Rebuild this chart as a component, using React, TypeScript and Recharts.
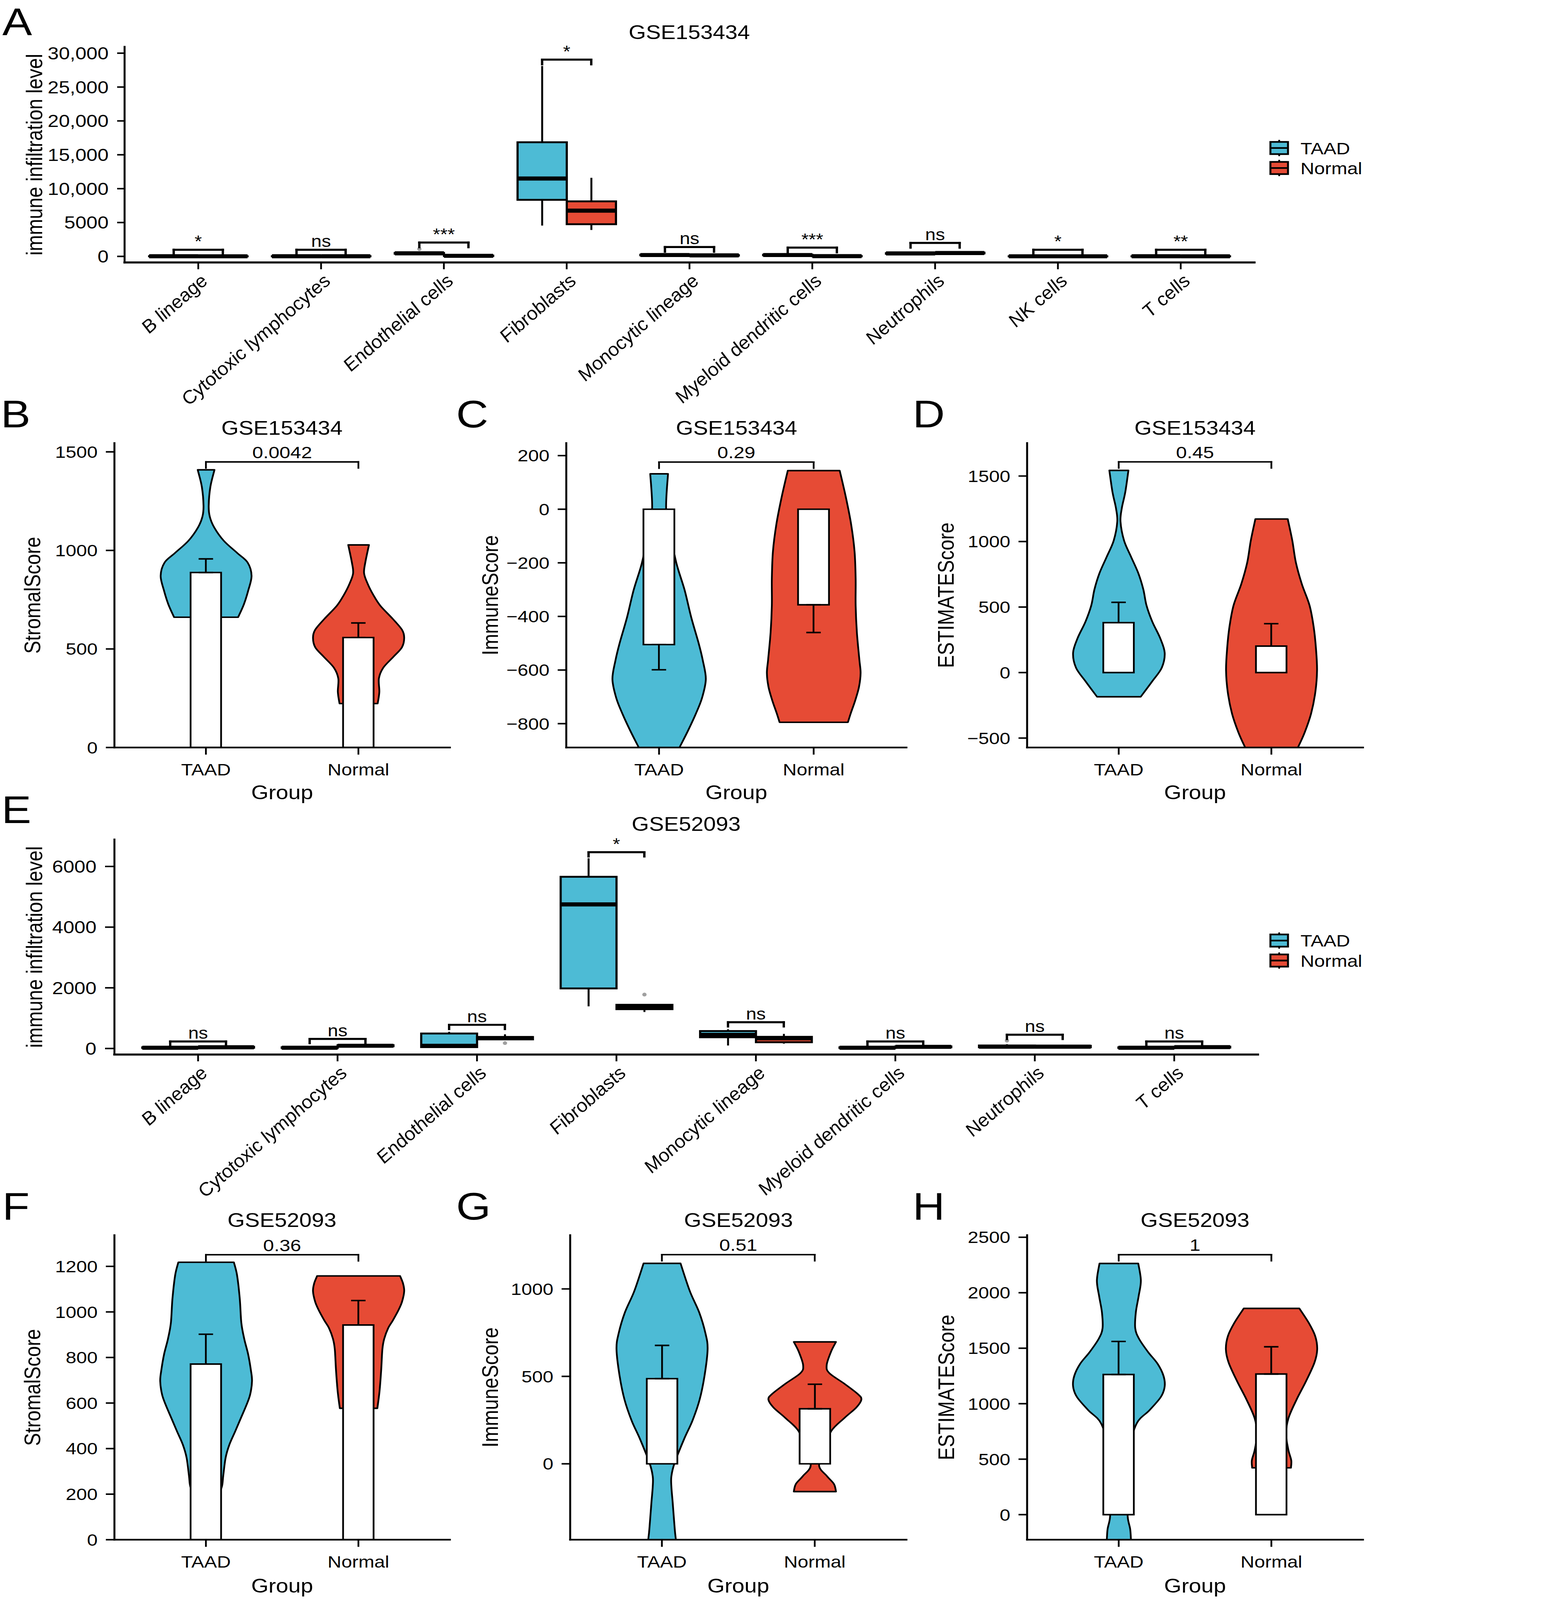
import React from 'react';
import { ComposedChart, Bar, XAxis, YAxis, ReferenceLine, ErrorBar } from 'recharts';

const FONT = '"Liberation Sans", Arial, Helvetica, sans-serif';
const BLUE = '#4DBBD5';
const RED = '#E64B35';
const GREY = '#A0A0A0';
// the photographed area is shorter than the figure, so the figure is squeezed vertically to fit
const FIT_Y = 4096 / 4724;

const groups = ['TAAD', 'Normal'];

// ---------- A: GSE153434 cell infiltration (box plots) ----------
const aCells = ['B lineage', 'Cytotoxic lymphocytes', 'Endothelial cells', 'Fibroblasts', 'Monocytic lineage', 'Myeloid dendritic cells', 'Neutrophils', 'NK cells', 'T cells'];
// [min, q1, median, q3, max]
const aTaad = [
  [0, 10, 20, 35, 60],
  [0, 10, 20, 35, 70],
  [300, 400, 450, 510, 620],
  [4550, 8350, 11500, 16850, 28100],
  [100, 160, 200, 250, 330],
  [100, 160, 200, 250, 330],
  [300, 390, 435, 480, 560],
  [0, 8, 15, 25, 45],
  [0, 10, 20, 30, 50],
];
const aNormal = [
  [0, 8, 15, 25, 45],
  [0, 12, 25, 40, 80],
  [10, 50, 85, 120, 200],
  [3900, 4750, 6750, 8125, 11600],
  [60, 110, 150, 190, 280],
  [0, 15, 35, 55, 90],
  [350, 450, 500, 550, 640],
  [0, 6, 12, 20, 35],
  [0, 8, 15, 25, 40],
];
const aTaadOut = [[], [], [1075], [], [], [], [], [], []];
const aNormalOut = [[], [], [], [], [], [], [], [], []];
const aSig = ['*', 'ns', '***', '*', 'ns', '***', 'ns', '*', '**'];
const aSigY = [985, 985, 2050, 29050, 1385, 1300, 1985, 985, 985];
const aTicks = [0, 5000, 10000, 15000, 20000, 25000, 30000];
const aTickLabels = ['0', '5000', '10,000', '15,000', '20,000', '25,000', '30,000'];

// ---------- E: GSE52093 cell infiltration (box plots) ----------
const eCells = ['B lineage', 'Cytotoxic lymphocytes', 'Endothelial cells', 'Fibroblasts', 'Monocytic lineage', 'Myeloid dendritic cells', 'Neutrophils', 'T cells'];
const eTaad = [
  [5, 15, 25, 40, 60],
  [5, 15, 25, 40, 55],
  [25, 45, 90, 494, 550],
  [1390, 1980, 4750, 5660, 6270],
  [97, 370, 450, 575, 632],
  [5, 15, 25, 40, 60],
  [20, 40, 60, 100, 140],
  [5, 15, 25, 40, 60],
];
const eNormal = [
  [10, 25, 40, 55, 70],
  [60, 75, 90, 110, 130],
  [290, 300, 340, 380, 468],
  [1201, 1296, 1389, 1441, 1470],
  [160, 206, 335, 385, 483],
  [20, 40, 55, 70, 90],
  [20, 40, 60, 90, 120],
  [15, 30, 45, 60, 80],
];
const eTaadOut = [[], [], [], [], [], [], [257], []];
const eNormalOut = [[], [], [178], [1777], [], [], [], []];
const eSig = ['ns', 'ns', 'ns', '*', 'ns', 'ns', 'ns', 'ns'];
const eSigY = [231, 316, 781, 6470, 867, 231, 453, 231];
const eTicks = [0, 2000, 4000, 6000];
const eTickLabels = ['0', '2000', '4000', '6000'];

// ---------- violin panels: [value, half width as share of category step] ----------
const bViolinTaad = [[661, 0.21], [727, 0.248], [796, 0.276], [871, 0.298], [939, 0.272], [987, 0.204], [1049, 0.116], [1117, 0.053], [1172, 0.024], [1227, 0.017], [1323, 0.028], [1409, 0.055]];
const bViolinNormal = [[223, 0.125], [282, 0.136], [350, 0.133], [405, 0.162], [460, 0.228], [508, 0.284], [556, 0.299], [597, 0.285], [652, 0.225], [720, 0.142], [775, 0.096], [830, 0.06], [884, 0.036], [939, 0.044], [1028, 0.068]];
const bMeans = [888, 558];
const bErrEnds = [957, 632];

const cViolinTaad = [[-950, 0.078], [-891, 0.13], [-826, 0.187], [-765, 0.236], [-705, 0.277], [-634, 0.302], [-563, 0.282], [-503, 0.257], [-402, 0.207], [-302, 0.165], [-202, 0.112], [-100, 0.076], [0, 0.0455], [132, 0.0575]];
const cViolinNormal = [[-795, 0.221], [-762, 0.239], [-712, 0.269], [-662, 0.293], [-611, 0.303], [-561, 0.295], [-460, 0.279], [-359, 0.271], [-259, 0.271], [-158, 0.264], [-57, 0.242], [44, 0.208], [144, 0.168]];
const cMeans = [-505, -356.5];
const cErrEnds = [-599, -460];

const dViolinTaad = [[-185, 0.143], [-66, 0.219], [37, 0.281], [151, 0.3], [264, 0.27], [388, 0.219], [512, 0.181], [635, 0.16], [759, 0.127], [883, 0.08], [1007, 0.034], [1151, 0.0106], [1254, 0.019], [1378, 0.042], [1543, 0.0625]];
const dViolinNormal = [[-620, 0.15], [-571, 0.173], [-457, 0.217], [-313, 0.259], [-148, 0.287], [17, 0.298], [182, 0.291], [347, 0.276], [512, 0.249], [677, 0.198], [842, 0.159], [1007, 0.136], [1172, 0.106]];
const dMeans = [381, 202];
const dErrEnds = [536, 373];

const fViolinTaad = [[180, 0.07], [232, 0.103], [279, 0.112], [360, 0.128], [418, 0.153], [476, 0.191], [534, 0.228], [592, 0.265], [638, 0.289], [696, 0.301], [743, 0.294], [813, 0.276], [882, 0.25], [952, 0.231], [1056, 0.221], [1161, 0.203], [1218, 0.182]];
const fViolinNormal = [[577, 0.123], [650, 0.137], [743, 0.148], [836, 0.156], [882, 0.168], [929, 0.194], [963, 0.225], [1010, 0.263], [1045, 0.285], [1091, 0.299], [1126, 0.291], [1158, 0.272]];
const fMeans = [771, 942.5];
const fErrEnds = [902, 1050];

const gViolinTaad = [[-480, 0.097], [-434, 0.0905], [-373, 0.083], [-222, 0.0696], [-131, 0.061], [-71, 0.061], [5, 0.082], [141, 0.144], [247, 0.199], [368, 0.246], [504, 0.278], [655, 0.298], [746, 0.284], [866, 0.243], [987, 0.182], [1146, 0.121]];
const gViolinNormal = [[-159, 0.138], [-116, 0.125], [-71, 0.0795], [-10, 0.0276], [80, 0.066], [186, 0.106], [262, 0.193], [322, 0.271], [367, 0.304], [398, 0.282], [458, 0.193], [519, 0.094], [564, 0.077], [640, 0.105], [697, 0.138]];
const gMeans = [487, 314.5];
const gErrEnds = [677, 455];

const hViolinTaad = [[-270, 0.08], [-226, 0.079], [-130, 0.074], [-35, 0.059], [108, 0.053], [346, 0.042], [585, 0.064], [823, 0.117], [942, 0.201], [1061, 0.275], [1156, 0.3], [1252, 0.292], [1359, 0.254], [1466, 0.191], [1585, 0.132], [1680, 0.107], [1823, 0.111], [1966, 0.129], [2109, 0.144], [2264, 0.127]];
const hViolinNormal = [[422, 0.127], [489, 0.129], [584, 0.11], [727, 0.095], [870, 0.111], [1037, 0.164], [1203, 0.226], [1370, 0.281], [1489, 0.299], [1609, 0.286], [1728, 0.244], [1859, 0.182]];
const hMeans = [1263, 1267.6];
const hErrEnds = [1561, 1513];

const VIOLIN_BAR = 0.9;

function smooth(pts: number[][], start: string) {
  let d = `${start}${pts[0][0]},${pts[0][1]}`;
  for (let i = 0; i < pts.length - 1; i++) {
    const p0 = pts[i - 1] || pts[i];
    const p1 = pts[i];
    const p2 = pts[i + 1];
    const p3 = pts[i + 2] || p2;
    const c1x = p1[0] + (p2[0] - p0[0]) / 6;
    const c1y = p1[1] + (p2[1] - p0[1]) / 6;
    const c2x = p2[0] - (p3[0] - p1[0]) / 6;
    const c2y = p2[1] - (p3[1] - p1[1]) / 6;
    d += ` C${c1x},${c1y} ${c2x},${c2y} ${p2[0]},${p2[1]}`;
  }
  return d;
}

function ViolinShape(props: any) {
  const { x, y, width, height, payload } = props;
  const prof: number[][] = payload.prof;
  const lo = prof[0][0];
  const hi = prof[prof.length - 1][0];
  const k = height / (hi - lo);
  const band = width / VIOLIN_BAR;
  const cx = x + width / 2;
  const py = (v: number) => y + (hi - v) * k;
  const left = prof.map(([v, w]) => [cx - w * band, py(v)]);
  const right = prof.map(([v, w]) => [cx + w * band, py(v)]).reverse();
  const d = smooth(left, 'M') + ' ' + smooth(right, 'L') + ' Z';
  return <path d={d} fill={payload.group === 'TAAD' ? BLUE : RED} stroke="#000" strokeWidth={4.5} strokeLinejoin="round" />;
}

function BoxShape(props: any) {
  const { x, y, width, height, stats, outs, fill } = props;
  const [mn, q1, md, q3, mx] = stats;
  const lo = Math.min(mn, ...outs);
  const hi = Math.max(mx, ...outs);
  const k = height / (hi - lo);
  const py = (v: number) => y + (hi - v) * k;
  const cx = x + width / 2;
  return (
    <g>
      <line x1={cx} x2={cx} y1={py(mx)} y2={py(q3)} stroke="#000" strokeWidth={5} />
      <line x1={cx} x2={cx} y1={py(q1)} y2={py(mn)} stroke="#000" strokeWidth={5} />
      <rect x={x} y={py(q3)} width={width} height={Math.max(py(q1) - py(q3), 0.1)} fill={fill} stroke="#000" strokeWidth={5.5} />
      <line x1={x} x2={x + width} y1={py(md)} y2={py(md)} stroke="#000" strokeWidth={12} />
      {outs.map((o: number, i: number) => (
        <circle key={i} cx={cx} cy={py(o)} r={5.5} fill={GREY} />
      ))}
    </g>
  );
}

function SlantTick(props: any) {
  const { x, y, payload } = props;
  const ax = x + 28;
  const ay = y + 38;
  return (
    <text x={ax} y={ay} transform={`rotate(-45 ${ax} ${ay})`} textAnchor="end" fontSize={52} fontStyle="italic" fill="#000">
      {payload.value}
    </text>
  );
}

function bracketLines(x1: number, x2: number, yTop: number, tip: number, label: string, fontSize: number, offset: number, sw: number, key: string) {
  const common = { xAxisId: 'n', stroke: '#000', strokeWidth: sw, strokeLinecap: 'square' as const, ifOverflow: 'visible' as const };
  return [
    <ReferenceLine key={key + 'h'} {...common} segment={[{ x: x1, y: yTop }, { x: x2, y: yTop }]}
      label={{ value: label, position: 'top', offset, fontSize, fill: '#000' }} />,
    <ReferenceLine key={key + 'l'} {...common} segment={[{ x: x1, y: yTop }, { x: x1, y: yTop - tip }]} />,
    <ReferenceLine key={key + 'r'} {...common} segment={[{ x: x2, y: yTop }, { x: x2, y: yTop - tip }]} />,
  ];
}

type BoxCfg = {
  top: number; width: number; height: number; yAxisW: number; mTop: number; mRight: number; xAxisH: number;
  domain: [number, number]; ticks: number[]; tickLabels: string[]; tickSize: number; yTitleOff: number;
  cells: string[]; taad: number[][]; normal: number[][]; taadOut: number[][]; normalOut: number[][];
  sig: string[]; sigY: number[]; tipFrac: number;
};

function BoxPanel(c: BoxCfg) {
  const rows = c.cells.map((cell, i) => ({
    cell,
    pos: i + 1,
    taad: c.taad[i],
    normal: c.normal[i],
    taadOut: c.taadOut[i],
    normalOut: c.normalOut[i],
    taadRange: [Math.min(c.taad[i][0], ...c.taadOut[i]), Math.max(c.taad[i][4], ...c.taadOut[i])],
    normalRange: [Math.min(c.normal[i][0], ...c.normalOut[i]), Math.max(c.normal[i][4], ...c.normalOut[i])],
  }));
  const n = c.cells.length;
  const plotW = c.width - c.yAxisW - c.mRight;
  const unit = plotW / (n + 0.2);
  const pad = unit * 0.1;
  const tip = c.tipFrac * (c.domain[1] - c.domain[0]);
  return (
    <div style={{ position: 'absolute', left: 0, top: c.top }}>
      <ComposedChart width={c.width} height={c.height} data={rows} barCategoryGap="10%" barGap={0}
        margin={{ top: c.mTop, right: c.mRight, bottom: 0, left: 0 }}>
        <XAxis xAxisId="c" dataKey="cell" type="category" padding={{ left: pad, right: pad }} interval={0}
          height={c.xAxisH} tickSize={20} tickMargin={0} tick={(p: any) => <SlantTick {...p} />}
          axisLine={{ stroke: '#000', strokeWidth: 6, strokeLinecap: 'square' }} tickLine={{ stroke: '#000', strokeWidth: 4.5 }} />
        <XAxis xAxisId="n" dataKey="pos" type="number" domain={[0.4, n + 0.6]} allowDataOverflow hide height={0} />
        <YAxis type="number" domain={c.domain} allowDataOverflow ticks={c.ticks} interval={0} width={c.yAxisW}
          tickSize={c.tickSize} tickMargin={22}
          tickFormatter={(v: number) => c.tickLabels[c.ticks.indexOf(v)] ?? String(v)}
          tick={{ fontSize: 51, fill: '#000' }}
          axisLine={{ stroke: '#000', strokeWidth: 5, strokeLinecap: 'square' }} tickLine={{ stroke: '#000', strokeWidth: 4.5 }}
          label={{ value: 'immune infiltration level', angle: -90, position: 'insideLeft', offset: c.yTitleOff, fontSize: 57, fill: '#000', style: { textAnchor: 'middle' } }} />
        <Bar xAxisId="c" dataKey="taadRange" isAnimationActive={false}
          shape={(p: any) => <BoxShape {...p} stats={p.payload.taad} outs={p.payload.taadOut} fill={BLUE} />} />
        <Bar xAxisId="c" dataKey="normalRange" isAnimationActive={false}
          shape={(p: any) => <BoxShape {...p} stats={p.payload.normal} outs={p.payload.normalOut} fill={RED} />} />
        {c.sig.flatMap((s, i) => bracketLines(i + 0.8, i + 1.2, c.sigY[i], tip, s, 48, 8, 6, 'br' + i))}
      </ComposedChart>
    </div>
  );
}

type ViolinCfg = {
  left: number; top: number; width: number; height: number; yAxisW: number; mTop: number; mRight: number; xAxisH: number;
  domain: [number, number]; ticks: number[]; yTitle: string; yTitleOff: number; groupOff: number;
  violins: number[][][]; means: number[]; errEnds: number[]; p: string; pY: number;
};

const fmtSigned = (v: number) => (v < 0 ? '\u2212' + Math.abs(v) : String(v));

function ViolinPanel(c: ViolinCfg) {
  const rows = groups.map((g, i) => ({
    group: g,
    pos: i + 1,
    prof: c.violins[i],
    range: [c.violins[i][0][0], c.violins[i][c.violins[i].length - 1][0]],
    mean: c.means[i],
    err: c.errEnds[i] > c.means[i] ? [0, c.errEnds[i] - c.means[i]] : [c.means[i] - c.errEnds[i], 0],
  }));
  const plotW = c.width - c.yAxisW - c.mRight;
  const unit = plotW / 2.2;
  const pad = unit * 0.1;
  const tip = 0.02 * (c.domain[1] - c.domain[0]);
  return (
    <div style={{ position: 'absolute', left: c.left, top: c.top }}>
      <ComposedChart width={c.width} height={c.height} data={rows} margin={{ top: c.mTop, right: c.mRight, bottom: 0, left: 0 }}>
        <XAxis xAxisId="a" dataKey="group" type="category" padding={{ left: pad, right: pad }} interval={0}
          height={c.xAxisH} tickSize={21} tickMargin={27} tick={{ fontSize: 49, fill: '#000' }}
          axisLine={{ stroke: '#000', strokeWidth: 5, strokeLinecap: 'square' }} tickLine={{ stroke: '#000', strokeWidth: 4.5 }}
          label={{ value: 'Group', position: 'insideBottom', offset: c.groupOff, fontSize: 57, fill: '#000' }} />
        <XAxis xAxisId="b" dataKey="group" type="category" padding={{ left: pad, right: pad }} hide height={0} />
        <XAxis xAxisId="n" dataKey="pos" type="number" domain={[0.4, 2.6]} allowDataOverflow hide height={0} />
        <YAxis type="number" domain={c.domain} allowDataOverflow ticks={c.ticks} interval={0} width={c.yAxisW}
          tickSize={22} tickMargin={21} tickFormatter={fmtSigned} tick={{ fontSize: 49, fill: '#000' }}
          axisLine={{ stroke: '#000', strokeWidth: 5, strokeLinecap: 'square' }} tickLine={{ stroke: '#000', strokeWidth: 4.5 }}
          label={{ value: c.yTitle, angle: -90, position: 'insideLeft', offset: c.yTitleOff, fontSize: 57, fill: '#000', style: { textAnchor: 'middle' } }} />
        <Bar xAxisId="a" dataKey="range" barSize={unit * VIOLIN_BAR} isAnimationActive={false} shape={(p: any) => <ViolinShape {...p} />} />
        <Bar xAxisId="b" dataKey="mean" barSize={unit * 0.2} fill="#fff" stroke="#000" strokeWidth={4.5} isAnimationActive={false}>
          <ErrorBar dataKey="err" width={18.5} stroke="#000" strokeWidth={4.5} direction="y" />
        </Bar>
        {bracketLines(1, 2, c.pY, tip, c.p, 50, 11, 4.5, 'p')}
      </ComposedChart>
    </div>
  );
}

function LegendKey({ x, y, fill, label }: { x: number; y: number; fill: string; label: string }) {
  return (
    <g>
      <line x1={x + 22.5} x2={x + 22.5} y1={y - 6} y2={y + 42} stroke="#000" strokeWidth={4.5} />
      <rect x={x} y={y} width={45} height={36} fill={fill} stroke="#000" strokeWidth={5} />
      <line x1={x} x2={x + 45} y1={y + 18} y2={y + 18} stroke="#000" strokeWidth={5} />
      <text x={x + 77} y={y + 36} fontSize={49} fill="#000">{label}</text>
    </g>
  );
}

const row1Top = 1290;
const row2Top = 3590;

export default function App() {
  return (
    <div style={{ position: 'absolute', left: 0, top: 0, width: 4015, height: 4724, background: '#fff', fontFamily: FONT, overflow: 'hidden', transform: `scaleY(${FIT_Y})`, transformOrigin: '0 0' }}>
      <BoxPanel top={0} width={3240} height={1285} yAxisW={319} mTop={138} mRight={28} xAxisH={510}
        domain={[-900, 30950]} ticks={aTicks} tickLabels={aTickLabels} tickSize={19} yTitleOff={88}
        cells={aCells} taad={aTaad} normal={aNormal} taadOut={aTaadOut} normalOut={aNormalOut}
        sig={aSig} sigY={aSigY} tipFrac={0.022} />
      <BoxPanel top={2350} width={3250} height={1270} yAxisW={293} mTop={128.5} mRight={29} xAxisH={506.4}
        domain={[-200, 6890]} ticks={eTicks} tickLabels={eTickLabels} tickSize={24} yTitleOff={88}
        cells={eCells} taad={eTaad} normal={eNormal} taadOut={eTaadOut} normalOut={eNormalOut}
        sig={eSig} sigY={eSigY} tipFrac={0.02} />

      <ViolinPanel left={0} top={row1Top} width={1160} height={1090} yAxisW={293} mTop={18} mRight={8} xAxisH={173}
        domain={[0, 1545]} ticks={[0, 500, 1000, 1500]} yTitle="StromalScore" yTitleOff={83} groupOff={20}
        violins={[bViolinTaad, bViolinNormal]} means={bMeans} errEnds={bErrEnds} p="0.0042" pY={1449} />
      <ViolinPanel left={1160} top={row1Top} width={1170} height={1090} yAxisW={290} mTop={18} mRight={9} xAxisH={173}
        domain={[-889, 247]} ticks={[-800, -600, -400, -200, 0, 200]} yTitle="ImmuneScore" yTitleOff={95} groupOff={20}
        violins={[cViolinTaad, cViolinNormal]} means={cMeans} errEnds={cErrEnds} p="0.29" pY={176} />
      <ViolinPanel left={2340} top={row1Top} width={1160} height={1090} yAxisW={290} mTop={18} mRight={10} xAxisH={173}
        domain={[-572, 1752]} ticks={[-500, 0, 500, 1000, 1500]} yTitle="ESTIMATEScore" yTitleOff={82} groupOff={20}
        violins={[dViolinTaad, dViolinNormal]} means={dMeans} errEnds={dErrEnds} p="0.45" pY={1608} />

      <ViolinPanel left={0} top={row2Top} width={1160} height={1130} yAxisW={293} mTop={56.8} mRight={8} xAxisH={174}
        domain={[0, 1337]} ticks={[0, 200, 400, 600, 800, 1000, 1200]} yTitle="StromalScore" yTitleOff={83} groupOff={18}
        violins={[fViolinTaad, fViolinNormal]} means={fMeans} errEnds={fErrEnds} p="0.36" pY={1251} />
      <ViolinPanel left={1160} top={row2Top} width={1170} height={1130} yAxisW={300} mTop={56.8} mRight={9} xAxisH={174}
        domain={[-434, 1307.5]} ticks={[0, 500, 1000]} yTitle="ImmuneScore" yTitleOff={95} groupOff={18}
        violins={[gViolinTaad, gViolinNormal]} means={gMeans} errEnds={gErrEnds} p="0.51" pY={1196} />
      <ViolinPanel left={2340} top={row2Top} width={1160} height={1130} yAxisW={290} mTop={56.8} mRight={10} xAxisH={174}
        domain={[-226, 2519]} ticks={[0, 500, 1000, 1500, 2000, 2500]} yTitle="ESTIMATEScore" yTitleOff={83} groupOff={18}
        violins={[hViolinTaad, hViolinNormal]} means={hMeans} errEnds={hErrEnds} p="1" pY={2343} />

      <svg width={4015} height={4724} style={{ position: 'absolute', left: 0, top: 0, pointerEvents: 'none' }}>
        <g fontSize={114} fill="#000">
          <text x={6} y={104}>A</text>
          <text x={2} y={1262}>B</text>
          <text x={1168} y={1262}>C</text>
          <text x={2337} y={1262}>D</text>
          <text x={4} y={2430}>E</text>
          <text x={6} y={3601}>F</text>
          <text x={1168} y={3601}>G</text>
          <text x={2337} y={3601}>H</text>
        </g>
        <g fontSize={57} fill="#000" textAnchor="middle">
          <text x={1765} y={115}>GSE153434</text>
          <text x={722} y={1284}>GSE153434</text>
          <text x={1886} y={1284}>GSE153434</text>
          <text x={3060} y={1284}>GSE153434</text>
          <text x={1757} y={2453}>GSE52093</text>
          <text x={722} y={3623}>GSE52093</text>
          <text x={1891} y={3623}>GSE52093</text>
          <text x={3060} y={3623}>GSE52093</text>
        </g>
        <LegendKey x={3253} y={419} fill={BLUE} label="TAAD" />
        <LegendKey x={3253} y={478} fill={RED} label="Normal" />
        <LegendKey x={3253} y={2759} fill={BLUE} label="TAAD" />
        <LegendKey x={3253} y={2818} fill={RED} label="Normal" />
      </svg>
    </div>
  );
}
